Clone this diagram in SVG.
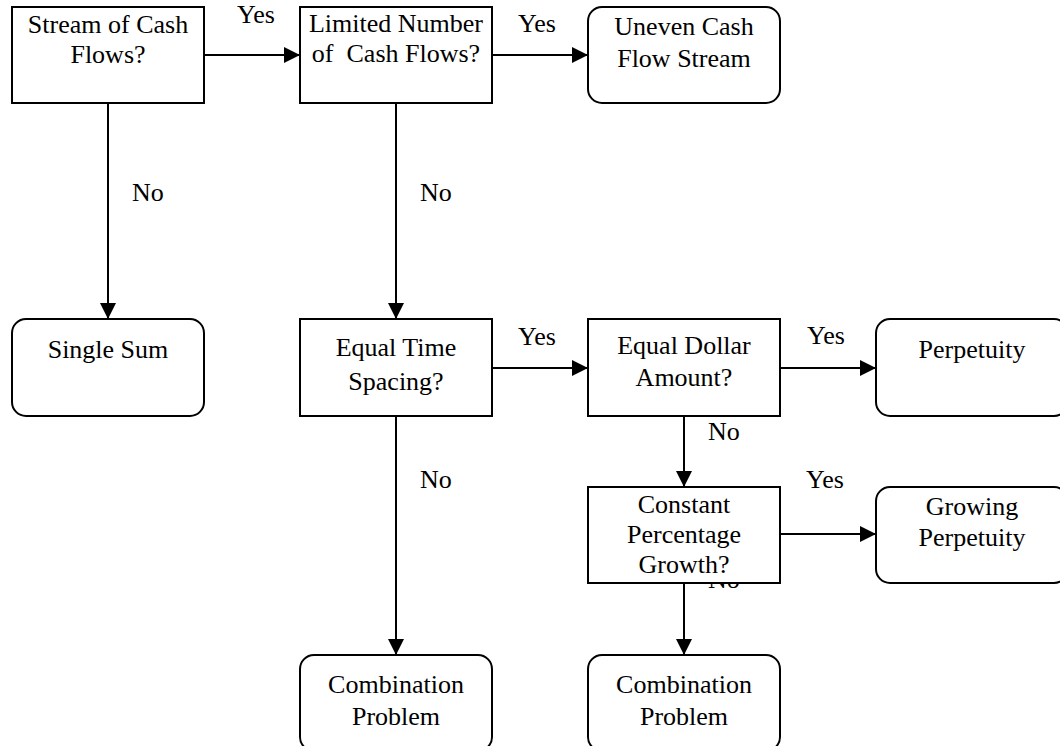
<svg xmlns="http://www.w3.org/2000/svg" width="1060" height="746" viewBox="0 0 1060 746">
<style>
text{font-family:"Liberation Serif","Times New Roman",serif;font-size:26px;fill:#000;white-space:pre}
.c{text-anchor:middle}
.box{fill:#fff;stroke:#000;stroke-width:2}
.ln{stroke:#000;stroke-width:2;fill:none;marker-end:url(#ah)}
</style>
<defs>
<marker id="ah" markerUnits="userSpaceOnUse" markerWidth="16" markerHeight="16" refX="16" refY="8" orient="auto">
<path d="M0,0 L16,8 L0,16 z" fill="#000"/>
</marker>
</defs>
<rect width="1060" height="746" fill="#fff"/>
<g id="connectors">
<line class="ln" x1="204" y1="55" x2="300" y2="55"/>
<line class="ln" x1="492" y1="55" x2="588" y2="55"/>
<line class="ln" x1="108" y1="103" x2="108" y2="319"/>
<line class="ln" x1="396" y1="103" x2="396" y2="319"/>
<line class="ln" x1="492" y1="368" x2="588" y2="368"/>
<line class="ln" x1="780" y1="368" x2="876" y2="368"/>
<line class="ln" x1="684" y1="416" x2="684" y2="487"/>
<line class="ln" x1="780" y1="534" x2="876" y2="534"/>
<line class="ln" x1="396" y1="416" x2="396" y2="655"/>
<line class="ln" x1="684" y1="583" x2="684" y2="655"/>
<text x="237" y="23">Yes</text>
<text x="518" y="32">Yes</text>
<text x="132" y="201">No</text>
<text x="420" y="201">No</text>
<text x="518" y="345">Yes</text>
<text x="807" y="344">Yes</text>
<text x="708" y="440">No</text>
<text x="806" y="488">Yes</text>
<text x="420" y="488">No</text>
<text x="708" y="588">No</text>
</g>
<g id="n-stream">
<rect class="box" x="12" y="7" width="192" height="96"/>
<text class="c" x="108" y="33">Stream of Cash</text>
<text class="c" x="108" y="63">Flows?</text>
</g>
<g id="n-limited">
<rect class="box" x="300" y="7" width="192" height="96"/>
<text class="c" x="396" y="32">Limited Number</text>
<text class="c" x="396" y="62">of  Cash Flows?</text>
</g>
<g id="n-uneven">
<rect class="box" x="588" y="7" width="192" height="96" rx="14"/>
<text class="c" x="684" y="35">Uneven Cash</text>
<text class="c" x="684" y="67">Flow Stream</text>
</g>
<g id="n-single">
<rect class="box" x="12" y="319" width="192" height="97" rx="14"/>
<text class="c" x="108" y="358">Single Sum</text>
</g>
<g id="n-time">
<rect class="box" x="300" y="319" width="192" height="97"/>
<text class="c" x="396" y="356">Equal Time</text>
<text class="c" x="396" y="390">Spacing?</text>
</g>
<g id="n-dollar">
<rect class="box" x="588" y="319" width="192" height="97"/>
<text class="c" x="684" y="354">Equal Dollar</text>
<text class="c" x="684" y="386">Amount?</text>
</g>
<g id="n-perp">
<rect class="box" x="876" y="319" width="192" height="97" rx="14"/>
<text class="c" x="972" y="358">Perpetuity</text>
</g>
<g id="n-constant">
<rect class="box" x="588" y="487" width="192" height="96"/>
<text class="c" x="684" y="513">Constant</text>
<text class="c" x="684" y="543">Percentage</text>
<text class="c" x="684" y="573">Growth?</text>
</g>
<g id="n-growing">
<rect class="box" x="876" y="487" width="192" height="96" rx="14"/>
<text class="c" x="972" y="515">Growing</text>
<text class="c" x="972" y="546">Perpetuity</text>
</g>
<g id="n-comb1">
<rect class="box" x="300" y="655" width="192" height="96" rx="14"/>
<text class="c" x="396" y="693">Combination</text>
<text class="c" x="396" y="725">Problem</text>
</g>
<g id="n-comb2">
<rect class="box" x="588" y="655" width="192" height="96" rx="14"/>
<text class="c" x="684" y="693">Combination</text>
<text class="c" x="684" y="725">Problem</text>
</g>
</svg>
